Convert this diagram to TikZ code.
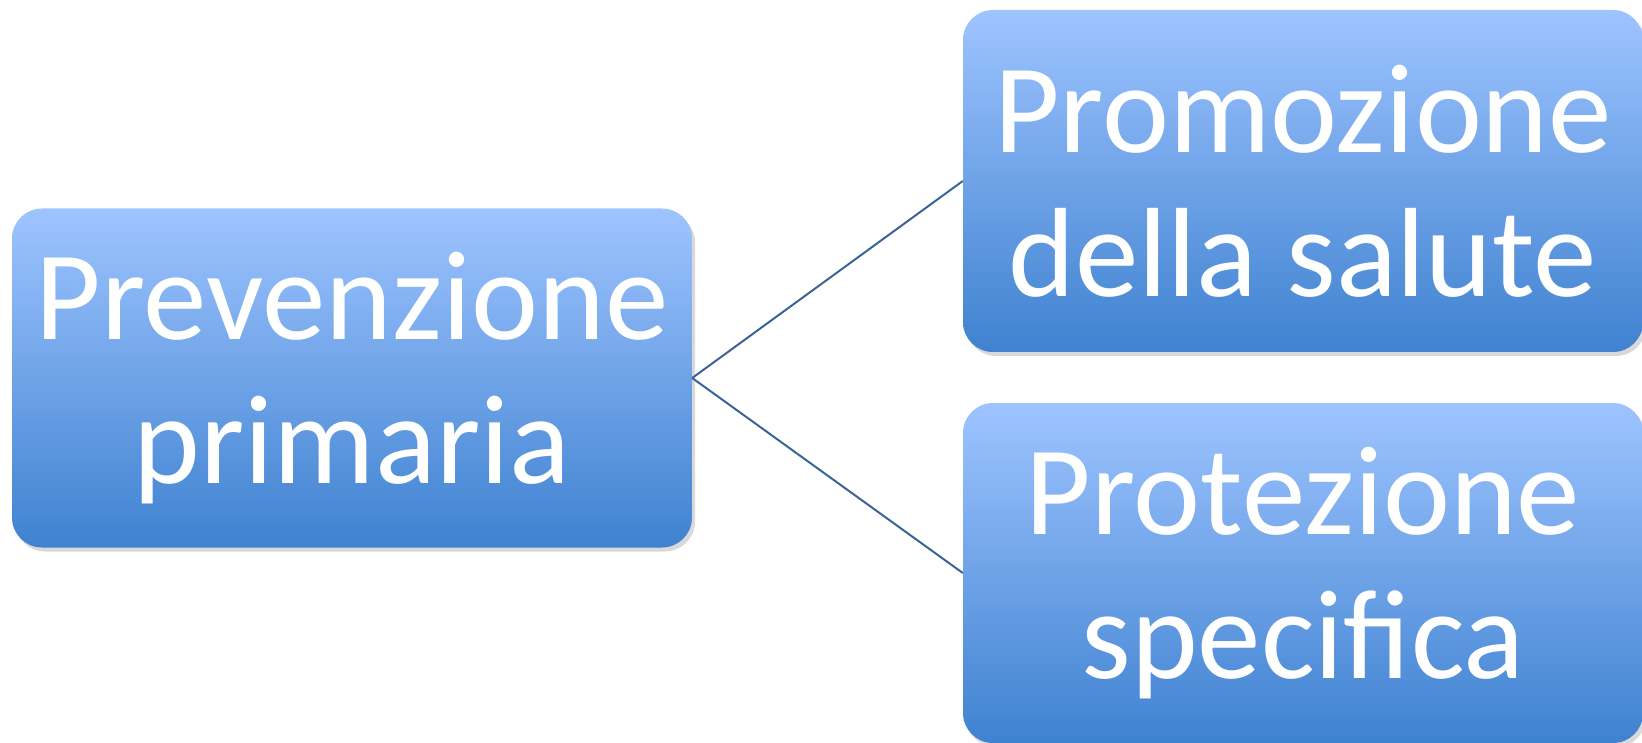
\documentclass[tikz,border=0pt]{standalone}
\usepackage{fontspec}
\setmainfont{Carlito}
\usetikzlibrary{shadows,positioning}
\definecolor{boxtop}{HTML}{9EC4FF}
\definecolor{boxbottom}{HTML}{3F82D0}
\definecolor{linkblue}{HTML}{3A6498}

\begin{document}
\begin{tikzpicture}[x=1pt,y=-1pt]
        \tikzstyle{box}=[rectangle, rounded corners=30pt, inner sep=0pt, minimum width=680pt, align=center,
            top color=boxtop, bottom color=boxbottom, text=white,
            font=\fontsize{127}{144}\selectfont,
            drop shadow={shadow xshift=3pt, shadow yshift=-4pt, opacity=0.3, fill=black!50}]
        \tikzstyle{link}=[linkblue, line width=2pt]

        % Canvas
        \useasboundingbox (0,0) rectangle (1642,743);

        % Boxes
        \node[box, minimum height=339pt] (prim) at (352,378) {Prevenzione\\primaria};
        \node[box, minimum height=342pt] (prom) at (1303,181) {Promozione\\della salute};
        \node[box, minimum height=340pt] (prot) at (1303,573) {Protezione\\specifica};

        % Links
        \draw[link] (prim.east) -- (prom.west);
        \draw[link] (prim.east) -- (prot.west);
\end{tikzpicture}
\end{document}
